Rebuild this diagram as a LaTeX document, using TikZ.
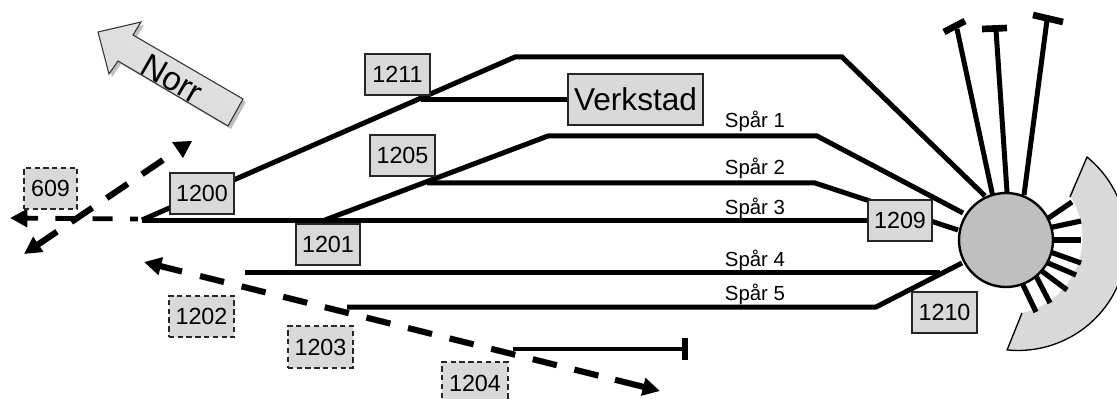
\documentclass[tikz,border=0pt]{standalone}
\usepackage{fontspec}
\setmainfont{Liberation Sans}
\usetikzlibrary{arrows.meta}
\definecolor{boxgray}{HTML}{D9D9D9}
\definecolor{circgray}{HTML}{BFBFBF}
\tikzset{
  track/.style={line width=3.75pt,line join=miter},
  spur/.style={line width=3.75pt},
  spoke/.style={line width=3.9pt,shorten <=-2pt},
  dashseg/.style={line width=4.6pt},
  headtip/.style={-{Triangle[length=13pt,width=13pt]}},
  idbox/.style={draw=black!85,fill=boxgray,line width=1.3pt,inner sep=0pt,font=\fontsize{17.5pt}{18pt}\selectfont},
  dashbox/.style={idbox,dashed,dash pattern=on 4pt off 2.6pt},
  sparlabel/.style={inner sep=0pt,font=\fontsize{15.3pt}{16pt}\selectfont}
}
\begin{document}
\begin{tikzpicture}[x=0.75pt,y=-0.75pt]
\useasboundingbox (0,0) rectangle (1117,399);
\clip (0,0) rectangle (1117,399);
% named track points
\coordinate (W) at (142,220);
\coordinate (A1) at (515,57);
\coordinate (A2) at (842,57);
\coordinate (A3) at (985,196);
\coordinate (V0) at (421,100);
\coordinate (B0) at (325,220);
\coordinate (B1) at (548,136);
\coordinate (B2) at (817,136);
\coordinate (B3) at (963,213);
\coordinate (C0) at (427,183);
\coordinate (C1) at (815,183);
\coordinate (C2) at (958,230);
\coordinate (D1) at (867,220);
\coordinate (E0) at (245,272);
\coordinate (E1) at (940,272);
\coordinate (F0) at (347,307);
\coordinate (F1) at (876,307);
\coordinate (F2) at (962,263);
\coordinate (G0) at (513,349);
\coordinate (G1) at (685,349);
\coordinate (H0) at (144,262);
\coordinate (H0b) at (182,271.5);
\coordinate (H1b) at (615,379.75);
\coordinate (H1) at (660,391);
\coordinate (I0) at (138,219);
\coordinate (I1) at (10,218);
\coordinate (J0) at (163,160);
\coordinate (J1) at (24,254);
% sector
\fill[boxgray] (1087,157) arc[start angle=50.8,end angle=-95.8,radius=81.75pt] -- (1022,313) arc[start angle=-77.6,end angle=33.9,radius=57.75pt] -- cycle;
\draw[line width=1pt] (1070,197) -- (1087,157) arc[start angle=50.8,end angle=-95.8,radius=81.75pt] -- (1022,313);
% spokes
\foreach \a/\b/\c/\d in {1050/217/1072/202,1053/227/1081/221,1054/240/1081/240,1053/253/1081/263,1048/263/1076/275,1043/272/1067/290,1037/278/1050/303,1024/287/1036/312}
  \draw[spoke] (\a,\b) -- (\c,\d);
% top dead ends
\draw[spur] (993,197) -- (957,29);
\draw[spur] (1007,192) -- (996,30);
\draw[spur] (1024,195) -- (1047,20);
\draw[line width=5pt] (944,32) -- (965,21);
\draw[line width=5pt] (982,29) -- (1007,28);
\draw[line width=5pt] (1033,15) -- (1063,22);
% tracks
\draw[track] (W) -- (A1) -- (A2) -- (A3);
\draw[track] (V0) -- (570,100);
\draw[track] (B0) -- (B1) -- (B2) -- (B3);
\draw[track] (C0) -- (C1) -- (C2);
\draw[track] (W) -- (D1);
\draw[track] (E0) -- (E1);
\draw[track] (F0) -- (F1) -- (F2);
\draw[line width=3pt] (G0) -- (G1);
\draw[line width=4pt] (G1)+(0,-11) -- +(0,11);
% dashed
\draw[dashseg,headtip] (H0b) -- (H0);
\foreach \k in {0,...,9}
  \draw[dashseg] ({200+41.6*\k},{276+10.4*\k}) -- ({224+41.6*\k},{282+10.4*\k});
\draw[dashseg,headtip] (H1b) -- (H1);
\draw[line width=3.6pt,dash pattern=on 15pt off 13pt,dash phase=9pt,headtip] (I0) -- (I1);
\draw[line width=4.6pt,dash pattern=on 19pt off 13pt,headtip] (J0) -- (J1);
\fill (172,142) -- (192,141) -- (183,158) -- cycle;
% centre
\node[circle,draw=black,fill=circgray,line width=1.8pt,minimum size=70.5pt,inner sep=0pt] (turn) at (1006,240) {};
% Norr arrow
\fill[black!25] (101,35) -- (144,25) -- (136,38) -- (246,102) -- (231,129) -- (121,64) -- (112,77) -- cycle;
\shade[top color=boxgray!70,bottom color=boxgray,shading angle=-30,draw=black!80,line width=.8pt] (98,32) -- (141,22) -- (133,35) -- (243,99) -- (228,126) -- (118,61) -- (109,74) -- cycle;
\node[rotate=-30,inner sep=0pt,font=\fontsize{25pt}{26pt}\selectfont] (norr) at (172,79) {Norr};
% boxes
\node[idbox,minimum width=48.5pt,minimum height=30.5pt] (b1200) at (202,193.5) {1200};
\node[idbox,minimum width=48.5pt,minimum height=30.5pt] (b1201) at (328,244.5) {1201};
\node[idbox,minimum width=48.5pt,minimum height=30.5pt] (b1205) at (402.5,155.5) {1205};
\node[idbox,minimum width=48.5pt,minimum height=30.5pt] (b1211) at (397.5,74.5) {1211};
\node[idbox,minimum width=48.5pt,minimum height=30.5pt] (b1209) at (900,220.5) {1209};
\node[idbox,minimum width=48.5pt,minimum height=30.5pt] (b1210) at (944.5,312.5) {1210};
\node[idbox,minimum width=101pt,minimum height=38pt,font=\fontsize{23.7pt}{25pt}\selectfont] (verk) at (635.5,99.5) {Verkstad};
\node[dashbox,minimum width=40pt,minimum height=31pt] (b609) at (50.5,188.5) {609};
\node[dashbox,minimum width=49pt,minimum height=31pt] (b1202) at (201.5,316.5) {1202};
\node[dashbox,minimum width=49pt,minimum height=31pt] (b1203) at (320.5,347) {1203};
\node[dashbox,minimum width=49pt,minimum height=31pt] (b1204) at (475,383) {1204};
% labels
\node[sparlabel] (s1) at (755,121) {Spår 1};
\node[sparlabel] (s2) at (755,168) {Spår 2};
\node[sparlabel] (s3) at (755,208) {Spår 3};
\node[sparlabel] (s4) at (755,260) {Spår 4};
\node[sparlabel] (s5) at (755,294) {Spår 5};
\end{tikzpicture}
\end{document}
